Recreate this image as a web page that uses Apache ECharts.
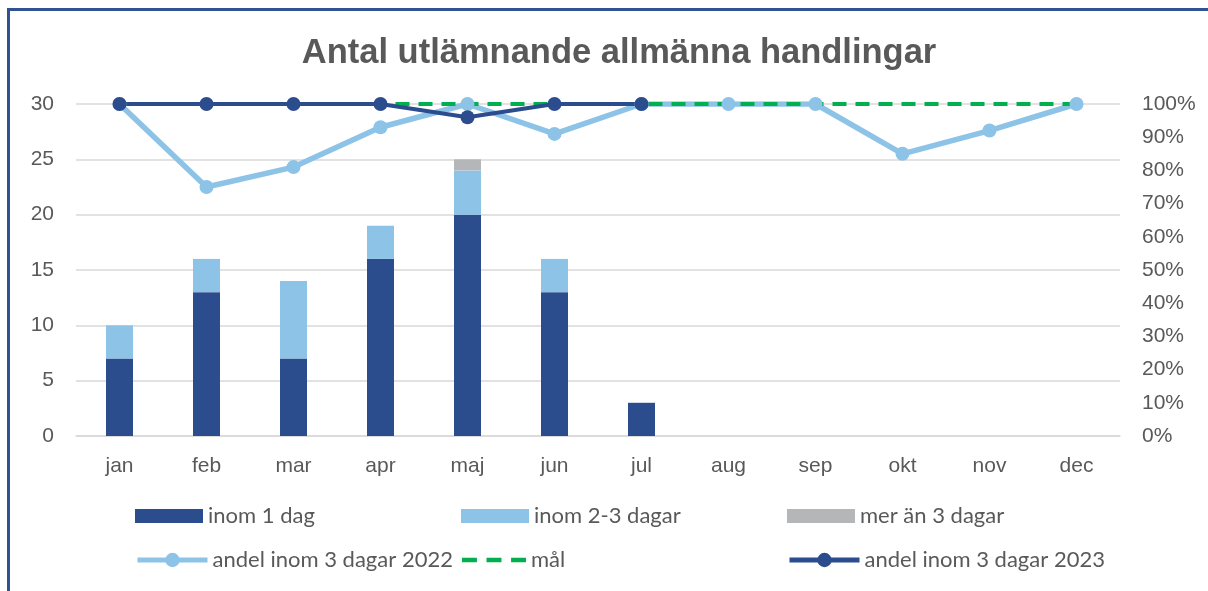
<!DOCTYPE html>
<html>
<head>
<meta charset="utf-8">
<script src="https://cdn.jsdelivr.net/npm/echarts@6/dist/echarts.min.js"></script>
<style>
  html, body { margin: 0; padding: 0; background: #fff; }
  #chart { width: 1208px; height: 591px; }
  .frame {
    position: absolute; left: 7px; top: 8px; right: 0; bottom: 0;
    border-top: 3px solid #2F5291; border-left: 3px solid #2F5291;
    pointer-events: none;
  }
</style>
</head>
<body>
<div id="chart"></div>
<div class="frame"></div>
<script>
const months = ['jan', 'feb', 'mar', 'apr', 'maj', 'jun', 'jul', 'aug', 'sep', 'okt', 'nov', 'dec']
const inom1 = [7, 13, 7, 16, 20, 13, 3, null, null, null, null, null]
const inom23 = [3, 3, 7, 3, 4, 3, null, null, null, null, null, null]
const merAn3 = [null, null, null, null, 1, null, null, null, null, null, null, null]
const andel2022 = [100, 75, 81, 93, 100, 91, 100, 100, 100, 85, 92, 100]
const mal = [100, 100, 100, 100, 100, 100, 100, 100, 100, 100, 100, 100]
const andel2023 = [100, 100, 100, 100, 96, 100, 100, null, null, null, null, null]

const DARK = '#2C4D8D'
const LIGHT = '#8CC3E7'
const GREY = '#B5B6B8'
const GREEN = '#00B050'
const TXT = '#595959'

let legendText = { color: TXT, fontSize: 22, fontFamily: 'Lato' }
let axisText = { color: TXT, fontSize: 21, fontFamily: 'Liberation Sans' }

function legendAt(name, left, top, w, h, icon, lineWidth) {
  let lg = {
    data: [{ name: name, icon: icon }],
    left: left,
    top: top,
    padding: 0,
    itemWidth: w,
    itemHeight: h,
    itemGap: 0,
    textStyle: legendText,
    selectedMode: false,
  }
  if (lineWidth) {
    lg.lineStyle = { width: lineWidth }
  }
  return lg
}

let myChart = echarts.init(document.getElementById('chart'))
let option = {
  animation: false,
  title: {
    text: 'Antal utlämnande allmänna handlingar',
    left: 614,
    textAlign: 'center',
    top: 31,
    textStyle: {
      fontFamily: 'Liberation Sans',
      fontWeight: 'bold',
      fontSize: 34.5,
      color: TXT,
    },
  },
  legend: [
    legendAt('inom 1 dag', 135, 505, 68, 14, 'rect'),
    legendAt('inom 2-3 dagar', 461, 505, 68, 14, 'rect'),
    legendAt('mer än 3 dagar', 787, 505, 68, 14, 'rect'),
    legendAt('andel inom 3 dagar 2022', 135, 549, 70, 18, undefined, 5),
    legendAt('mål', 462, 549, 64, 5, 'path://M0,0h14v4h-14z M23,0h14v4h-14z M46,0h14v4h-14z'),
    legendAt('andel inom 3 dagar 2023', 787, 549, 70, 18, undefined, 5),
  ],
  grid: {
    left: 76,
    right: 88,
    top: 104,
    bottom: 155,
  },
  xAxis: {
    type: 'category',
    data: months,
    axisTick: { show: false },
    axisLine: { lineStyle: { color: '#D9D9D9', width: 1.5 } },
    axisLabel: Object.assign({ margin: 20 }, axisText),
  },
  yAxis: [
    {
      type: 'value',
      min: 0,
      max: 30,
      interval: 5,
      axisLabel: Object.assign({ margin: 22 }, axisText),
      splitLine: { lineStyle: { color: '#D9D9D9', width: 1.5 } },
    },
    {
      type: 'value',
      min: 0,
      max: 100,
      interval: 10,
      axisLabel: Object.assign({ margin: 22, formatter: '{value}%' }, axisText),
      splitLine: { show: false },
    },
  ],
  series: [
    {
      name: 'inom 1 dag',
      type: 'bar',
      stack: 'antal',
      barWidth: 27,
      itemStyle: { color: DARK },
      data: inom1,
    },
    {
      name: 'inom 2-3 dagar',
      type: 'bar',
      stack: 'antal',
      itemStyle: { color: LIGHT },
      data: inom23,
    },
    {
      name: 'mer än 3 dagar',
      type: 'bar',
      stack: 'antal',
      itemStyle: { color: GREY },
      data: merAn3,
    },
    {
      name: 'andel inom 3 dagar 2022',
      type: 'line',
      yAxisIndex: 1,
      symbol: 'circle',
      symbolSize: 14,
      itemStyle: { color: LIGHT },
      lineStyle: { color: LIGHT, width: 5.5 },
      data: andel2022,
    },
    {
      name: 'mål',
      type: 'line',
      yAxisIndex: 1,
      symbol: 'none',
      itemStyle: { color: GREEN },
      lineStyle: { color: GREEN, width: 4, type: [14, 9] },
      data: mal,
    },
    {
      name: 'andel inom 3 dagar 2023',
      type: 'line',
      yAxisIndex: 1,
      symbol: 'circle',
      symbolSize: 14,
      itemStyle: { color: DARK },
      lineStyle: { color: DARK, width: 4 },
      data: andel2023,
    },
  ],
}

option && myChart.setOption(option)
</script>
</body>
</html>
